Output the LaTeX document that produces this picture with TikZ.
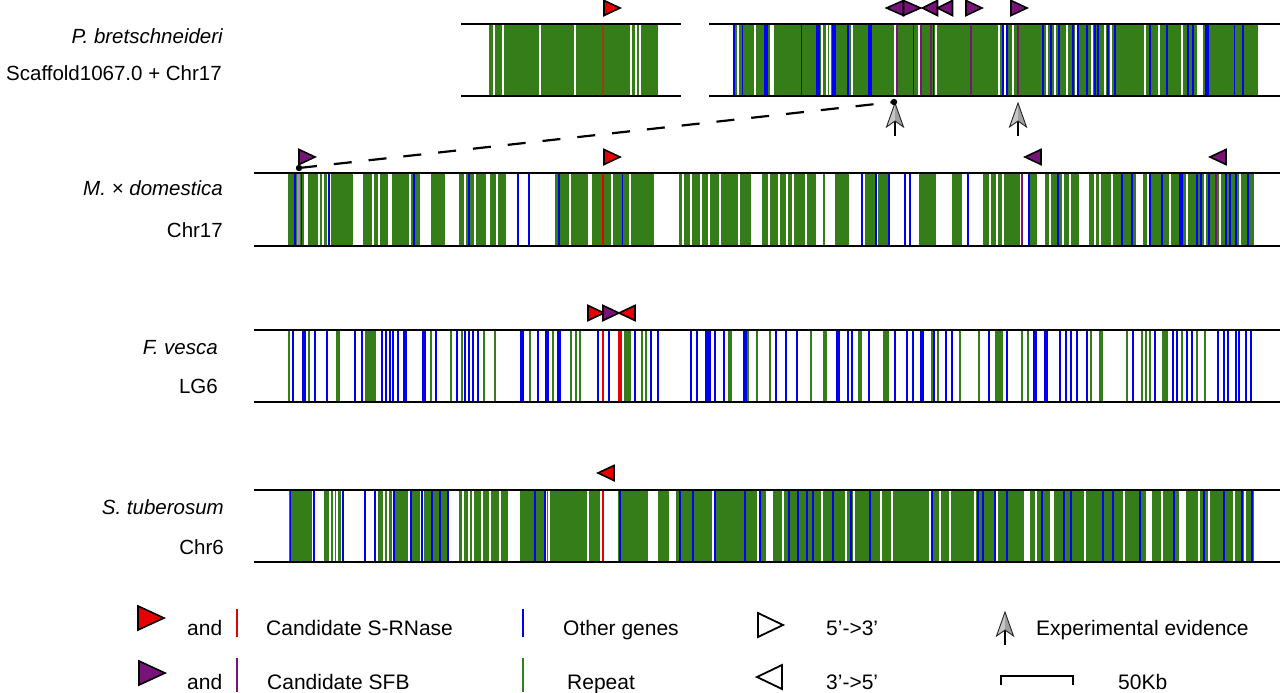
\documentclass[tikz,border=0pt]{standalone}
\usepackage{fontspec}
\setmainfont{Liberation Sans}
\definecolor{repgreen}{RGB}{52,125,24}
\definecolor{geneblue}{RGB}{0,0,240}
\definecolor{sred}{RGB}{230,0,0}
\definecolor{spurple}{RGB}{120,20,120}
\definecolor{lav}{RGB}{170,130,210}
\definecolor{dred}{RGB}{160,60,20}
\newcommand\lblfont{\fontsize{20.5}{24}\selectfont}
\newcommand\legfont{\fontsize{21}{25}\selectfont}
\newcommand\gspans[3]{\foreach \a/\b in {#3} \fill[repgreen] (\a,#1) rectangle (\b,#2);}
\newcommand\wspans[3]{\foreach \a/\b in {#3} \fill[white] (\a,#1) rectangle (\b,#2);}
\newcommand\vlines[4]{\foreach \a in {#4} \draw[#3] (\a,#1) -- (\a,#2);}
\newcommand\trR[5]{\filldraw[tri,fill=#3] ({#1-#4},{#2-#5}) -- ({#1+#4},#2) -- ({#1-#4},{#2+#5}) -- cycle;}
\newcommand\trL[5]{\filldraw[tri,fill=#3] ({#1+#4},{#2-#5}) -- ({#1-#4},#2) -- ({#1+#4},{#2+#5}) -- cycle;}
\newcommand\exparrow[2]{%
  \draw[line width=1.8pt,black] (#1,{#2+12}) -- (#1,{#2+33});
  \fill[gray!45] (#1,#2) -- (#1,{#2+18}) -- ({#1-8.5},{#2+24}) -- cycle;
  \fill[gray!75] (#1,#2) -- ({#1+8.5},{#2+24}) -- (#1,{#2+18}) -- cycle;
  \draw[gray!30!black,line width=0.9pt,line join=miter] (#1,#2) -- ({#1+8.5},{#2+24}) -- (#1,{#2+18}) -- ({#1-8.5},{#2+24}) -- cycle;}
\tikzset{
  chrline/.style={line width=2.8pt,black},
  gap/.style={white,line width=2.5pt},
  gapthin/.style={white,line width=1.5pt},
  gene/.style={geneblue,line width=2pt},
  genethin/.style={geneblue,line width=1pt},
  genethick/.style={geneblue,line width=3.5pt},
  rep/.style={repgreen,line width=2pt},
  repthick/.style={repgreen,line width=4pt},
  sfb/.style={spurple,line width=2.5pt},
  rnase/.style={sred,line width=2.2pt},
  tri/.style={draw=black,line width=1.6pt,line join=miter},
  lbl/.style={font=\lblfont,anchor=base east,inner sep=0pt},
  leg/.style={font=\legfont,anchor=base west,inner sep=0pt},
}
\begin{document}
\begin{tikzpicture}[x=1pt,y=-1pt]
\useasboundingbox (0,0) rectangle (1280,693);
% ---------------- P. bretschneideri ----------------
\gspans{24}{96}{489/658}
\vlines{24}{96}{gap}{494,503,540,631,636,640}
\vlines{24}{96}{gapthin}{575}
\vlines{24}{96}{dred,line width=1.5pt}{603}
\gspans{24}{96}{733/1258}
\vlines{24}{96}{gap}{755,822,827,830,852,895,919,936,999,1005,1013,1047,1055,1067,1076,1092,1105,1111,1145,1159,1182}
\vlines{24}{96}{white,line width=4pt}{772}
\vlines{24}{96}{gapthin}{738}
\wspans{24}{96}{1197/1203}
\vlines{24}{96}{gene}{734,848,1003,1007,1043,1051,1059,1073,1078,1087,1095,1098,1108,1115,1150,1167,1188,1193,1243}
\vlines{24}{96}{genethin}{742,801,933,1234}
\vlines{24}{96}{genethick}{766,818,834,870,1207}
\vlines{24}{96}{spurple,line width=2pt}{897,921,931,971,1018}
\vlines{24}{96}{spurple!60!black,line width=1pt}{913}
\draw[chrline] (461,24) -- (681,24);
\draw[chrline] (461,96) -- (681,96);
\draw[chrline] (709,24) -- (1280,24);
\draw[chrline] (709,96) -- (1280,96);
\trR{612}{8}{sred}{8}{7.5}
\trL{895}{8}{spurple}{8.5}{7.5}
\trR{912}{8}{spurple}{8.5}{7.5}
\trL{930}{8}{spurple}{7.5}{7.5}
\trL{945}{8}{spurple}{7.5}{7.5}
\trR{974}{8}{spurple}{8}{7.5}
\trR{1019}{8}{spurple}{8}{7.5}
\exparrow{895}{103}
\exparrow{1018}{103}
\node[lbl] (pbname) at (223,44) {\itshape P. bretschneideri};
\node[lbl] (pbchr) at (222,81) {Scaffold1067.0 + Chr17};
% ---------------- M. x domestica ----------------
\gspans{173}{246}{288/304,308/327,331/353,363/388,392/420,431/445,459/486,490/506,555/588,592/654,679/738,740/751,762/816,835/849,865/875,878/888,919/936,952/962,983/1020,1030/1037,1045/1079,1089/1136,1143/1254}
\vlines{173}{246}{rep}{824}
\vlines{173}{246}{gap}{319,323,373,379,410,465,475,497,570,612,630,683,691,701,709,720,769,779,787,793,806,990,997,1003,1050,1063,1070,1095,1100,1112,1148,1170,1187,1205,1220,1240}
\vlines{173}{246}{gene}{295,329,414,469,518,529,559,862,876,889,905,910,968,1029,1058,1122,1132,1150,1162,1197,1201,1209,1226,1230,1236,1248}
\vlines{173}{246}{genethin}{301,622}
\vlines{173}{246}{genethick}{1181}
\vlines{173}{246}{lav,line width=3pt}{298}
\vlines{173}{246}{sfb}{1022,1216}
\vlines{173}{246}{rnase}{603}
\draw[chrline] (254,173) -- (1280,173);
\draw[chrline] (254,246) -- (1280,246);
\trR{307}{157}{spurple}{8}{7.5}
\trR{612}{157}{sred}{8}{7.5}
\trL{1033}{157}{spurple}{8}{7.5}
\trL{1218}{157}{spurple}{8}{7.5}
\node[lbl] (mdname) at (223,195) {\itshape M. × domestica};
\node[lbl] (mdchr) at (223,237) {Chr17};
% dashed link
\coordinate (dotM) at (299,168);
\coordinate (dotP) at (894,102);
\draw[line width=2.2pt,dash pattern=on 18pt off 17pt] (dotM) -- (dotP);
\fill (dotM) circle[radius=3.2pt];
\fill (dotP) circle[radius=3.2pt];
% ---------------- F. vesca ----------------
\gspans{330}{402}{365/376,624/631,823/827,883/889,995/1003,1099/1103,1162/1168}
\vlines{330}{402}{rep}{289,309,431,451,462,484,495,530,553,571,576,580,642,646,748,757,770,811,932,938,960,979,1022,1028,1091,1127,1142,1146,1150,1182,1197,1205}
\vlines{330}{402}{repthick}{338,730,860}
\vlines{330}{402}{gene}{293,315,327,355,362,382,386,390,393,398,436,457,465,469,473,478,538,598,609,635,651,658,691,697,715,724,776,786,797,848,852,869,895,907,913,934,946,952,989,1007,1034,1036,1060,1066,1071,1077,1087,1133,1155,1173,1177,1187,1192,1218,1224,1228,1236,1239,1246,1251}
\vlines{330}{402}{genethick}{304,405,424,522,547,559,745,838,922,1046}
\foreach \a/\b in {705/711} \fill[geneblue] (\a,330) rectangle (\b,402);
\vlines{330}{402}{rnase}{603}
\vlines{330}{402}{sred,line width=4pt}{620}
\draw[chrline] (254,330) -- (1280,330);
\draw[chrline] (254,402) -- (1280,402);
\trR{596}{313}{sred}{8}{7.5}
\trR{611}{313}{spurple}{8}{7.5}
\trL{627}{313}{sred}{8}{7.5}
\node[lbl] (fvname) at (218,354) {\itshape F. vesca};
\node[lbl] (fvchr) at (218,393) {LG6};
% ---------------- S. tuberosum ----------------
\gspans{490}{562}{289/312,324/341,378/392,394/408,412/420,424/447,459/508,520/545,547/600,618/648,658/669,676/1254}
\vlines{490}{562}{gap}{330,334,337,384,388,463,469,473,482,490,500,549,588,713,758,783,822,846,854,881,892,930,940,950,975,997,1036,1085,1124,1162,1199,1209,1234,1245}
\wspans{490}{562}{766/773,1024/1030,1050/1054,1146/1152,1179/1186}
\vlines{490}{562}{gene}{314,343,365,375,394,411,422,432,440,448,535,545,620,680,693,715,745,760,789,798,807,813,833,851,870,932,978,983,995,1007,1042,1064,1071,1103,1113,1140,1174,1204,1224,1242,1252}
\vlines{490}{562}{genethin}{290}
\vlines{490}{562}{rnase}{603}
\draw[chrline] (254,490) -- (1280,490);
\draw[chrline] (254,562) -- (1280,562);
\trL{606}{473}{sred}{8}{7.5}
\node[lbl] (stname) at (224,514) {\itshape S. tuberosum};
\node[lbl] (stchr) at (224,554) {Chr6};
% ---------------- legend ----------------
\trR{151}{618}{sred}{13}{12}
\trR{152}{673}{spurple}{13}{12}
\node[leg] (and1) at (187,635) {and};
\node[leg] (and2) at (187,689) {and};
\draw[sred,line width=2.5pt] (237,609) -- (237,637);
\draw[spurple,line width=2.5pt] (237,658) -- (237,692);
\node[leg] (lrnase) at (266,635) {Candidate S-RNase};
\node[leg] (lsfb) at (267,689) {Candidate SFB};
\draw[geneblue,line width=2.5pt] (523,609) -- (523,637);
\draw[repgreen,line width=2.5pt] (523,658) -- (523,692);
\node[leg] (lother) at (563,635) {Other genes};
\node[leg] (lrep) at (567,689) {Repeat};
\filldraw[fill=white,draw=black,line width=1.8pt,line join=miter] (758,613) -- (783,625) -- (758,637) -- cycle;
\filldraw[fill=white,draw=black,line width=1.8pt,line join=miter] (782,665) -- (757,677) -- (782,689) -- cycle;
\node[leg] (l53) at (826,635) {5’->3’};
\node[leg] (l35) at (826,689) {3’->5’};
\exparrow{1005}{612}
\node[leg] (lexp) at (1036,635) {Experimental evidence};
\draw[line width=2pt] (1001,685) -- (1001,676) -- (1073,676) -- (1073,685);
\node[leg] (lscale) at (1118,689) {50Kb};
\end{tikzpicture}
\end{document}
